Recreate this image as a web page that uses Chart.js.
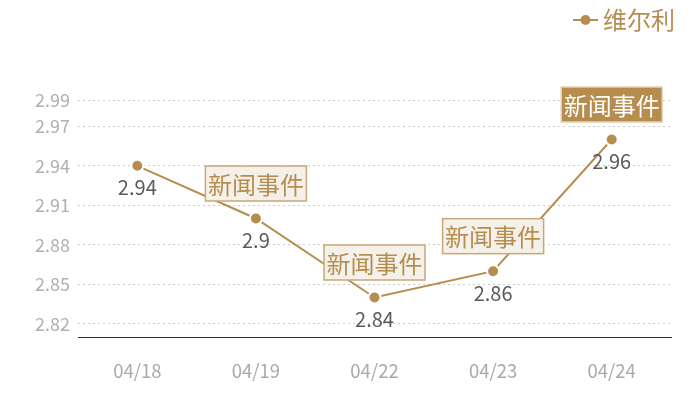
<!DOCTYPE html>
<html><head><meta charset="utf-8">
<script src="https://cdn.jsdelivr.net/npm/chart.js@4/dist/chart.umd.min.js"></script>
<style>html,body{margin:0;padding:0;background:#fff}#wrap{width:700px;height:400px;position:relative}</style>
</head><body><div id="wrap"><canvas id="c"></canvas></div>
<script>
const categories = ['04/18','04/19','04/22','04/23','04/24'];
const seriesName = '维尔利';
const values = [2.94, 2.9, 2.84, 2.86, 2.96];
const yTicks = [2.82, 2.85, 2.88, 2.91, 2.94, 2.97, 2.99];
const eventIdx = [1, 2, 3, 4];
const eventText = '新闻事件';
const highlightIdx = 4;

const GOLD = '#b68d4f';
const FONT = '"Noto Sans CJK SC", "Noto Sans", sans-serif';

const overlay = {
  id: 'overlay',
  afterDatasetsDraw(chart) {
    const ctx = chart.ctx;
    const meta = chart.getDatasetMeta(0);
    ctx.save();
    // value labels
    ctx.font = '20px ' + FONT;
    ctx.fillStyle = '#5a5a5a';
    ctx.textAlign = 'center';
    ctx.textBaseline = 'middle';
    meta.data.forEach((p, i) => {
      ctx.fillText(String(values[i]), p.x, p.y + 22);
    });
    // event boxes
    ctx.font = '24px ' + FONT;
    eventIdx.forEach(i => {
      const p = meta.data[i];
      const w = 101, h = 35;
      const cx = p.x, cy = p.y - 35;
      const hl = i === highlightIdx;
      ctx.fillStyle = hl ? GOLD : '#f4f0ea';
      ctx.fillRect(cx - w/2, cy - h/2, w, h);
      ctx.strokeStyle = hl ? '#e3d3b6' : '#c9a877';
      ctx.lineWidth = 1.5;
      ctx.strokeRect(cx - w/2, cy - h/2, w, h);
      ctx.fillStyle = hl ? '#ffffff' : GOLD;
      ctx.fillText(eventText, cx, cy + 1);
    });
    // legend
    ctx.strokeStyle = GOLD;
    ctx.lineWidth = 2;
    ctx.beginPath(); ctx.moveTo(573, 20); ctx.lineTo(598, 20); ctx.stroke();
    ctx.fillStyle = GOLD;
    ctx.beginPath(); ctx.arc(585.5, 20, 5, 0, Math.PI*2); ctx.fill();
    ctx.font = '24px ' + FONT;
    ctx.textAlign = 'left';
    ctx.fillText(seriesName, 603, 20);
    ctx.restore();
  }
};

new Chart(document.getElementById('c'), {
  type: 'line',
  data: {
    labels: categories,
    datasets: [{
      label: seriesName,
      data: values,
      borderColor: GOLD,
      borderWidth: 2,
      backgroundColor: GOLD,
      pointBackgroundColor: GOLD,
      pointBorderColor: '#ffffff',
      pointBorderWidth: 2,
      pointRadius: 6,
      tension: 0
    }]
  },
  options: {
    responsive: true,
    maintainAspectRatio: false,
    animation: false,
    layout: { padding: { top: 100, right: 29, left: 0, bottom: 0 } },
    plugins: { legend: { display: false }, tooltip: { enabled: false } },
    scales: {
      x: {
        offset: true,
        grid: { display: false, drawTicks: false },
        border: { display: true, color: '#333333', width: 1 },
        ticks: { color: '#aaaaaa', font: { size: 18.5, family: FONT }, padding: 23 },
        afterFit(s) { s.height = 63; }
      },
      y: {
        min: 2.81,
        max: 2.99,
        afterBuildTicks(s) { s.ticks = yTicks.map(v => ({ value: v })); },
        grid: { color: '#cccccc', drawTicks: false, lineWidth: 1 },
        border: { display: false, dash: [2, 3] },
        ticks: { color: '#b0b0b0', font: { size: 18, family: FONT }, padding: 8,
                 callback: v => v.toFixed(2) },
        afterFit(s) { s.width = 78; }
      }
    }
  },
  plugins: [overlay]
});
</script></body></html>
